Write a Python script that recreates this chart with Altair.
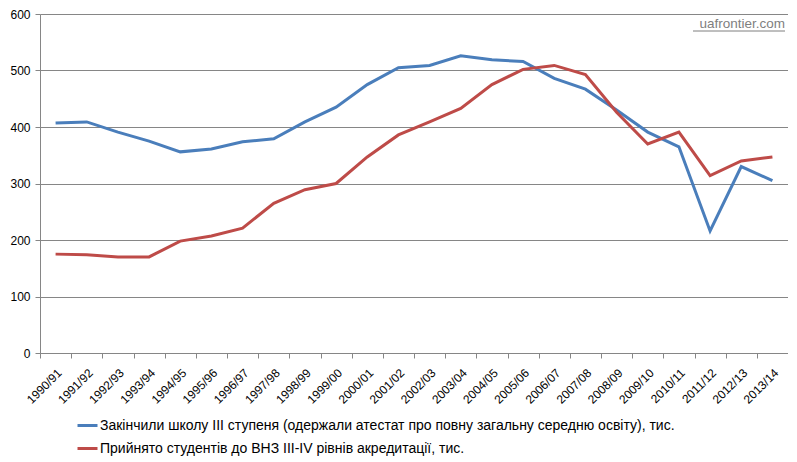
import altair as alt
import pandas as pd

years = ["1990/91", "1991/92", "1992/93", "1993/94", "1994/95", "1995/96", "1996/97",
         "1997/98", "1998/99", "1999/00", "2000/01", "2001/02", "2002/03", "2003/04",
         "2004/05", "2005/06", "2006/07", "2007/08", "2008/09", "2009/10", "2010/11",
         "2011/12", "2012/13", "2013/14"]
graduates = [407, 409, 391, 375, 356, 361, 374, 379, 409, 435, 475, 505, 509, 526,
             519, 516, 486, 467, 430, 391, 365, 216, 330, 305]
admitted = [175, 174, 170, 170, 198, 207, 221, 265, 289, 300, 347, 386, 409, 433,
            475, 502, 509, 493, 426, 370, 391, 314, 340, 347]
series_names = [
    "Закінчили школу III ступеня (одержали атестат про повну загальну середню освіту), тис.",
    "Прийнято студентів до ВНЗ III-IV рівнів акредитації, тис.",
]
colors = ["#4A7EBB", "#BE4B48"]
watermark = "uafrontier.com"

rows = []
for i, y in enumerate(years):
    rows.append({"year": y, "value": graduates[i], "series": series_names[0]})
    rows.append({"year": y, "value": admitted[i], "series": series_names[1]})
df = pd.DataFrame(rows)

FONT = "Liberation Sans"
GRID = "#868686"

base = alt.Chart(df)

lines = base.mark_line(strokeWidth=3).encode(
    x=alt.X("year:N", sort=years, title=None,
            scale=alt.Scale(paddingInner=0, paddingOuter=0),
            axis=alt.Axis(labelAngle=-45, labelFontSize=12, labelFont=FONT,
                          labelColor="#000000", domainColor=GRID, tickColor=GRID,
                          tickBand="extent", tickSize=5, grid=False, labelPadding=9)),
    y=alt.Y("value:Q", title=None,
            scale=alt.Scale(domain=[0, 600]),
            axis=alt.Axis(values=[0, 100, 200, 300, 400, 500, 600], labelFontSize=12,
                          labelFont=FONT, labelColor="#000000", domainColor=GRID,
                          tickColor=GRID, gridColor=GRID, tickSize=5, labelPadding=5)),
    color=alt.Color("series:N",
                    scale=alt.Scale(domain=series_names, range=colors),
                    legend=alt.Legend(title=None, orient="none", legendX=36, legendY=400,
                                      direction="vertical", symbolType="stroke",
                                      symbolSize=400, symbolStrokeWidth=3,
                                      labelFontSize=14, labelFont=FONT, labelLimit=800,
                                      rowPadding=4, labelOffset=1)),
)

wm = alt.Chart(pd.DataFrame({"t": [watermark]})).mark_text(
    align="right", baseline="alphabetic", fontSize=13.5, font=FONT, color="#7F7F7F"
).encode(text="t:N", x=alt.value(745), y=alt.value(14))

wm_line = alt.Chart(pd.DataFrame({"t": [watermark]})).mark_rule(
    color="#7F7F7F", strokeWidth=1
).encode(x=alt.value(653), x2=alt.value(745), y=alt.value(17))

chart = alt.layer(lines, wm, wm_line).properties(
    width=748, height=339,
    autosize=alt.AutoSizeParams(type="none"),
    padding={"left": 32, "top": 6, "right": 0, "bottom": 108},
).configure_view(stroke=None).configure_axis(gridWidth=1)

chart.save("out.html", embed_options={"renderer": "svg", "actions": False})
